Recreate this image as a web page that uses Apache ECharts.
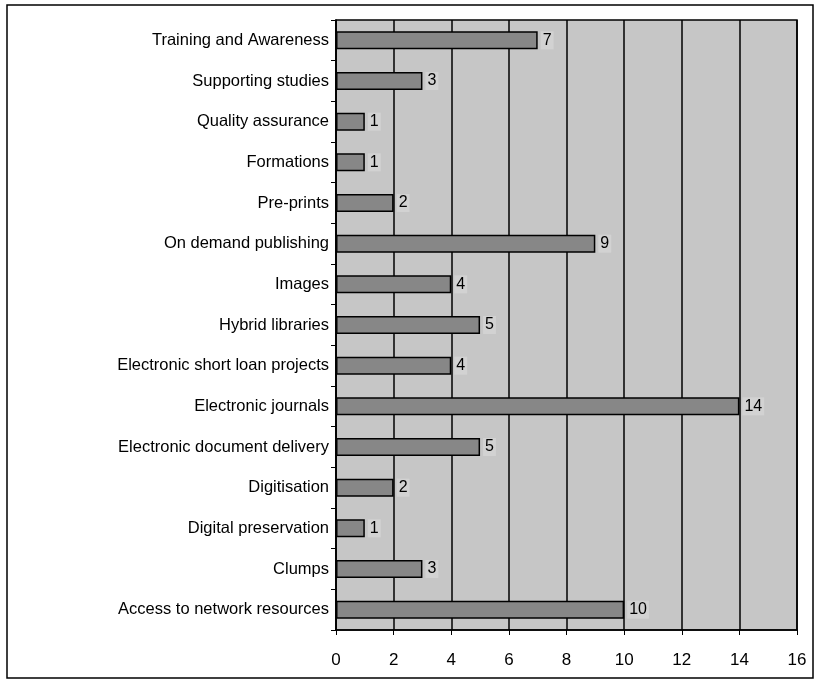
<!DOCTYPE html>
<html>
<head>
<meta charset="utf-8">
<script src="https://cdn.jsdelivr.net/npm/echarts@6/dist/echarts.min.js"></script>
<style>html,body{margin:0;padding:0;background:#fff;}#c{width:815px;height:680px;}</style>
</head>
<body>
<div id="c"></div>
<script>
const categories = [
  "Training and Awareness",
  "Supporting studies",
  "Quality assurance",
  "Formations",
  "Pre-prints",
  "On demand publishing",
  "Images",
  "Hybrid libraries",
  "Electronic short loan projects",
  "Electronic journals",
  "Electronic document delivery",
  "Digitisation",
  "Digital preservation",
  "Clumps",
  "Access to network resources"
];
const values = [7, 3, 1, 1, 2, 9, 4, 5, 4, 14, 5, 2, 1, 3, 10];
const xTicks = [0, 2, 4, 6, 8, 10, 12, 14, 16];

const chart = echarts.init(document.getElementById('c'), null, {renderer: 'canvas'});
chart.setOption({
  animation: false,
  backgroundColor: '#ffffff',
  graphic: [{
    type: 'rect',
    shape: {x: 7, y: 5, width: 806, height: 673},
    style: {fill: 'none', stroke: '#000', lineWidth: 1.5},
    silent: true,
    z: -1
  }],
  grid: {
    left: 336, right: 18, top: 20, bottom: 50,
    show: true,
    backgroundColor: '#c6c6c6',
    borderColor: '#000',
    borderWidth: 1.5
  },
  xAxis: {
    type: 'value',
    min: xTicks[0],
    max: xTicks[xTicks.length - 1],
    interval: 2,
    axisLine: {show: true, lineStyle: {color: '#000', width: 1.5}},
    axisTick: {show: true, length: 5, lineStyle: {color: '#000'}},
    axisLabel: {color: '#000', fontFamily: 'Liberation Sans, Arial, sans-serif', fontSize: 17, margin: 22},
    splitLine: {show: true, lineStyle: {color: '#000', width: 1.5}}
  },
  yAxis: {
    type: 'category',
    data: categories,
    inverse: true,
    axisLine: {show: true, lineStyle: {color: '#000', width: 1.5}},
    axisTick: {show: true, length: 5, lineStyle: {color: '#000'}},
    axisLabel: {color: '#000', fontFamily: 'Liberation Sans, Arial, sans-serif', fontSize: 16.5, margin: 7}
  },
  series: [{
    type: 'bar',
    data: values,
    barWidth: 18,
    itemStyle: {color: '#878787', borderColor: '#000', borderWidth: 1.5},
    label: {
      show: true,
      position: 'right',
      distance: 3,
      color: '#000',
      fontFamily: 'Liberation Sans, Arial, sans-serif',
      fontSize: 16,
      backgroundColor: '#d2d2d2',
      padding: [1, 2]
    }
  }]
});
</script>
</body>
</html>
